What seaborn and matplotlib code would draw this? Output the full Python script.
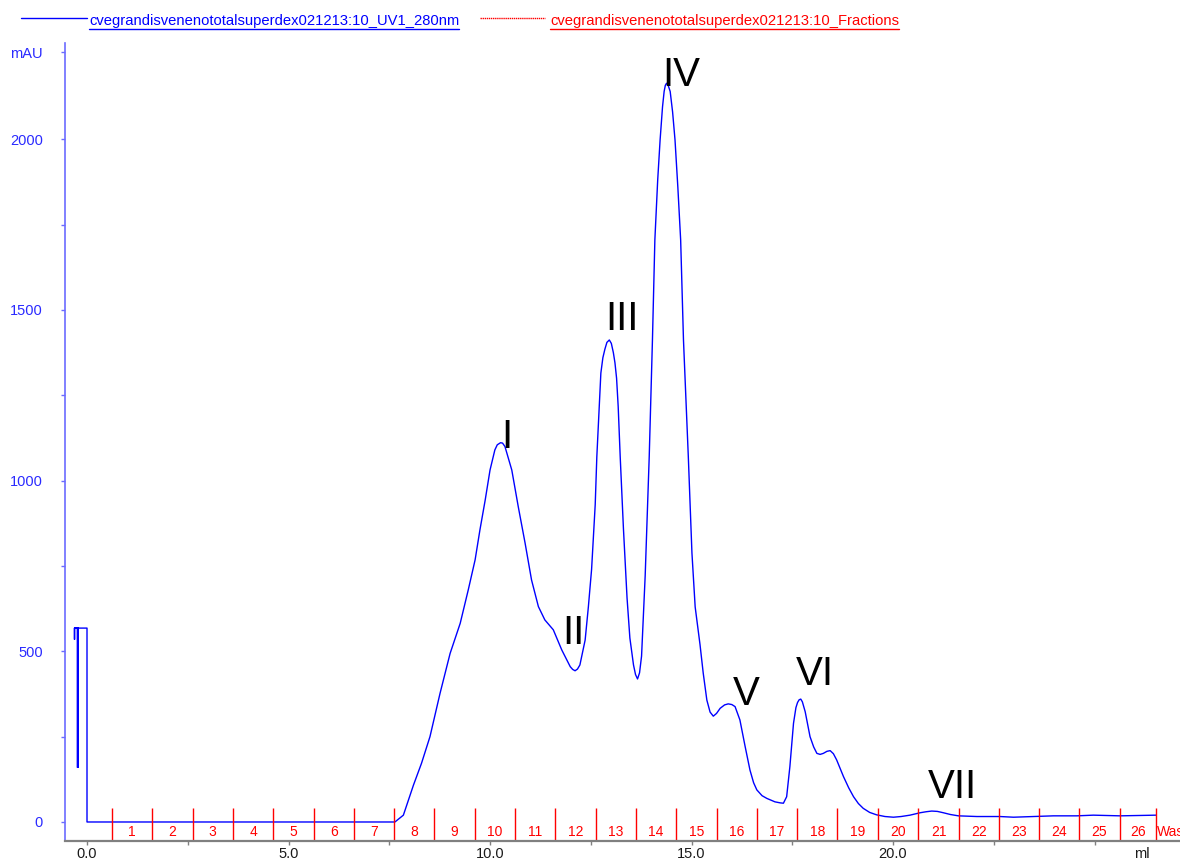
import matplotlib
matplotlib.use("Agg")
import numpy as np
import pandas as pd
import seaborn as sns
import matplotlib.pyplot as plt
from matplotlib.lines import Line2D

# UV 280 nm trace (elution volume in ml, absorbance in mAU)
volume_ml = [
    -0.24, -0.24, -0.22, -0.22, -0.22, -0.31, -0.31, -0.31, 0.0, 0.0,
    7.64, 7.85, 8.10, 8.30, 8.51, 8.76, 9.01, 9.26, 9.46, 9.63, 9.75, 9.88,
    10.00, 10.12, 10.18, 10.26, 10.31, 10.37, 10.54, 10.70, 10.87, 11.03,
    11.20, 11.36, 11.57, 11.78, 11.99, 12.05, 12.11, 12.17, 12.23, 12.36,
    12.44, 12.52, 12.61, 12.65, 12.71, 12.75, 12.80, 12.85, 12.90, 12.96,
    13.01, 13.06, 13.10, 13.14, 13.18, 13.23, 13.31, 13.40, 13.47, 13.56,
    13.61, 13.66, 13.71, 13.76, 13.85, 13.95, 14.03, 14.09, 14.16, 14.22,
    14.28, 14.32, 14.35, 14.38, 14.42, 14.47, 14.53, 14.59, 14.66, 14.73,
    14.80, 14.92, 15.01, 15.09, 15.21, 15.29, 15.38, 15.46, 15.54, 15.62,
    15.71, 15.82, 15.91, 16.00, 16.08, 16.20, 16.33, 16.45, 16.54, 16.62,
    16.75, 16.87, 17.07, 17.20, 17.28, 17.36, 17.44, 17.53, 17.59, 17.63,
    17.67, 17.71, 17.75, 17.82, 17.94, 18.03, 18.11, 18.19, 18.27, 18.36,
    18.44, 18.52, 18.60, 18.77, 18.90, 19.02, 19.14, 19.26, 19.42, 19.59,
    19.80, 20.01, 20.20, 20.42, 20.67, 20.82, 20.96, 21.10, 21.25, 21.42,
    21.62, 21.85, 22.08, 22.65, 22.99, 23.48, 23.98, 24.56, 24.97, 25.63,
    26.53,
]
absorbance_mau = [
    160, 568, 568, 160, 568, 568, 535, 568, 568, 0,
    0, 20, 108, 172, 250, 377, 494, 582, 680, 768, 856, 943,
    1031, 1090, 1105, 1111, 1110, 1100, 1031, 924, 817, 709,
    631, 592, 563, 504, 455, 447, 443, 448, 460, 533,
    630, 740, 930, 1070, 1217, 1315, 1360, 1385, 1405, 1412,
    1402, 1375, 1345, 1300, 1217, 1070, 860, 656, 539, 460,
    432, 419, 437, 486, 722, 1070, 1412, 1705, 1880, 1998,
    2095, 2140, 2158, 2164, 2158, 2140, 2080, 1998, 1860, 1705,
    1412, 1070, 788, 630, 520, 436, 357, 322, 310, 318,
    333, 343, 346, 344, 338, 299, 221, 152, 115, 94,
    77, 69, 59, 56, 55, 74, 162, 289, 335, 350,
    358, 360, 352, 323, 250, 220, 201, 198, 201, 207,
    209, 200, 182, 133, 100, 74, 54, 40, 28, 21,
    16, 14, 16, 20, 27, 30, 32, 31, 27, 22,
    18, 17, 16, 16, 14, 16, 18, 18, 20, 18,
    20,
]

# Fraction collector boundaries (ml) and their labels
fraction_edges = [
    0.62, 1.62, 2.62, 3.62, 4.62, 5.62, 6.62, 7.62, 8.62, 9.62,
    10.62, 11.62, 12.62, 13.62, 14.62, 15.62, 16.62, 17.62, 18.62, 19.63,
    20.63, 21.63, 22.63, 23.62, 24.62, 25.62, 26.53,
]
fraction_labels = [str(i) for i in range(1, 27)] + ["Waste"]

# Peak annotations
peak_names = ["I", "II", "III", "IV", "V", "VI", "VII"]
peak_label_x = [10.42, 12.08, 13.27, 14.74, 16.37, 18.06, 21.48]
peak_label_y = [1096, 521, 1441, 2157, 343, 401, 70]

y_ticks = [0, 500, 1000, 1500, 2000, 2255]
y_tick_labels = ["0", "500", "1000", "1500", "2000", "mAU"]
x_ticks = [0, 5, 10, 15, 20, 25]
x_tick_labels = ["0.0", "5.0", "10.0", "15.0", "20.0", ""]

curve_name = "cvegrandisvenenototalsuperdex021213:10_UV1_280nm"
fraction_name = "cvegrandisvenenototalsuperdex021213:10_Fractions"

sns.set_style("white")
plt.rcParams["font.family"] = ["Liberation Sans", "DejaVu Sans"]

W, H = 1180, 861
fig = plt.figure(figsize=(W / 100, H / 100), dpi=100)
ax = fig.add_axes([65 / W, 20 / H, 1115 / W, 798 / H])

trace = pd.DataFrame({"volume": volume_ml, "mau": absorbance_mau})
sns.lineplot(data=trace, x="volume", y="mau", sort=False, estimator=None,
             color="#0000ff", lw=1.0, ax=ax)

ax.set_xlim(-0.546, 27.12)
ax.set_ylim(-55.7, 2282)
ax.set_xlabel("")
ax.set_ylabel("")

for side in ("top", "right"):
    ax.spines[side].set_visible(False)
ax.spines["left"].set_color("#6b6bff")
ax.spines["left"].set_linewidth(1.2)
ax.spines["bottom"].set_color("#808080")
ax.spines["bottom"].set_linewidth(1.6)

ax.set_yticks(y_ticks)
ax.set_yticklabels(y_tick_labels)
ax.set_yticks([250, 750, 1250, 1750], minor=True)
ax.set_xticks(x_ticks)
ax.set_xticklabels(x_tick_labels)
ax.set_xticks([2.5, 7.5, 12.5, 17.5, 22.5], minor=True)

ax.tick_params(axis="y", which="both", left=True, direction="out", length=3,
               width=1, color="#6b6bff", labelcolor="#2a2aff", labelsize=10.5, pad=13)
ax.tick_params(axis="x", which="both", bottom=True, direction="out", length=3,
               width=1, color="#808080", labelcolor="#1a1a1a", labelsize=10.5, pad=1)

# Fraction markers along the baseline
xt = ax.get_xaxis_transform()
ax.vlines(fraction_edges, 0, 0.0414, transform=xt, colors="#ff0000", lw=1.0)
for i, lab in enumerate(fraction_labels):
    if i < len(fraction_edges) - 1:
        xc = (fraction_edges[i] + fraction_edges[i + 1]) / 2
        ax.text(xc, 0.0117, lab, transform=xt, ha="center", va="center",
                color="#ff0000", fontsize=10, clip_on=False)
    else:
        ax.text(fraction_edges[i] + 0.01, 0.0117, lab, transform=xt, ha="left",
                va="center", color="#ff0000", fontsize=10, clip_on=False)

ax.text((1142 - 65) / 1115, -0.007, "ml", transform=ax.transAxes, ha="center",
        va="top", color="#1a1a1a", fontsize=10.5)

# Peak labels
for name, px, py in zip(peak_names, peak_label_x, peak_label_y):
    ax.text(px, py, name, ha="center", va="baseline", fontsize=29, color="black")

# Header legend with underlined curve names
def header_entry(x0, x1, x_text, color, text, ls):
    fig.add_artist(Line2D([x0 / W, x1 / W], [1 - 18 / H, 1 - 18 / H], color=color,
                          lw=1.0, ls=ls, transform=fig.transFigure))
    return fig.text(x_text / W, 1 - 21 / H, text, color=color, fontsize=10.6,
                    ha="left", va="center")

t1 = header_entry(21, 87, 89, "#0000ff", curve_name, "-")
t2 = header_entry(480, 545, 550, "#ff0000", fraction_name, (0, (1, 0.5)))

fig.canvas.draw()
renderer = fig.canvas.get_renderer()
for t, c in ((t1, "#0000ff"), (t2, "#ff0000")):
    bb = t.get_window_extent(renderer)
    fy = (bb.y0 - 1) / H
    fig.add_artist(Line2D([bb.x0 / W, bb.x1 / W], [fy, fy], color=c, lw=1.0,
                          transform=fig.transFigure))

fig.savefig("out.png", dpi=100)
